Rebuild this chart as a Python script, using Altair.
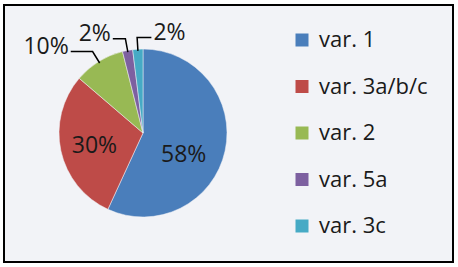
import math
import altair as alt
import pandas as pd

# ---- data ----
categories = ["var. 1", "var. 3a/b/c", "var. 2", "var. 5a", "var. 3c"]
values = [58, 30, 10, 2, 2]
labels = ["58%", "30%", "10%", "2%", "2%"]
colors = ["#4A7EBB", "#BE4B48", "#98B954", "#7D60A0", "#46AAC5"]
outside = [False, False, True, True, True]          # label placed outside with leader
side = ["", "", "left", "left", "right"]            # which way the leader arm goes

# ---- layout ----
W, H = 449, 257          # plot area (= bordered box)
CX, CY = 139, 128        # pie centre in plot pixels
R = 84                   # pie radius, px
FONT = "Open Sans"
arm = [0, 0, 0.26, 0.15, 0.17]   # leader arm length, in pie radii
inner_nudge = [16, -3]   # degrees, label placement tweak (Excel "best fit")
inner_r = [0.55, 0.6]

x_dom = [-CX / R, (W - CX) / R]
y_dom = [-(H - CY) / R, CY / R]

total = float(sum(values))
rows, inner, lines, outer = [], [], [], []
start = 0.0
for i, (c, v, lab) in enumerate(zip(categories, values, labels)):
    frac = v / total
    mid = (start + frac / 2) * 2 * math.pi
    start += frac
    sx, sy = math.sin(mid), math.cos(mid)
    rows.append({"cat": c, "val": v, "ord": i})
    if not outside[i]:
        a = mid + math.radians(inner_nudge[i])
        inner.append({"x": inner_r[i] * math.sin(a), "y": inner_r[i] * math.cos(a), "lab": lab})
    else:
        ex, ey = 1.14 * sx, 1.14 * sy
        d = -1 if side[i] == "left" else 1
        endx = ex + d * arm[i]
        pts = [(0.98 * sx, 0.98 * sy), (ex, ey), (endx, ey)]
        for k, (px, py) in enumerate(pts):
            lines.append({"id": i, "k": k, "x": px, "y": py})
        outer.append({"x": endx, "y": ey, "lab": lab, "side": side[i]})

df = pd.DataFrame(rows)
df_in = pd.DataFrame(inner)
df_ln = pd.DataFrame(lines)
df_out = pd.DataFrame(outer)

xs = alt.Scale(domain=x_dom, nice=False, zero=False)
ys = alt.Scale(domain=y_dom, nice=False, zero=False)

pie = alt.Chart(df).mark_arc(stroke="#F2F3F7", strokeWidth=0.5).encode(
    theta=alt.Theta("val:Q", stack=True),
    order=alt.Order("ord:Q"),
    color=alt.Color(
        "cat:N",
        scale=alt.Scale(domain=categories, range=colors),
        sort=categories,
        legend=alt.Legend(
            title=None, orient="none", legendX=287, legendY=24,
            symbolType="square", symbolSize=169, symbolStrokeWidth=0,
            labelFont=FONT, labelFontSize=22, labelColor="#1a1a1a",
            labelOffset=6, rowPadding=24.5, padding=0, labelLimit=200,
        ),
    ),
    x=alt.datum(0, type="quantitative", scale=xs, axis=None),
    y=alt.datum(0, type="quantitative", scale=ys, axis=None),
    radius=alt.value(R),
)

t_in = alt.Chart(df_in).mark_text(font=FONT, fontSize=23, color="#1a1a1a").encode(
    x=alt.X("x:Q", scale=xs, axis=None),
    y=alt.Y("y:Q", scale=ys, axis=None),
    text="lab:N",
)

ln = alt.Chart(df_ln).mark_line(color="black", strokeWidth=1.5).encode(
    x=alt.X("x:Q", scale=xs, axis=None),
    y=alt.Y("y:Q", scale=ys, axis=None),
    detail="id:N",
    order="k:Q",
)

t_left = alt.Chart(df_out).transform_filter("datum.side == 'left'").mark_text(
    font=FONT, fontSize=23, color="#1a1a1a", align="right", baseline="alphabetic", dx=-2, dy=2.5
).encode(
    x=alt.X("x:Q", scale=xs, axis=None),
    y=alt.Y("y:Q", scale=ys, axis=None),
    text="lab:N",
)
t_right = alt.Chart(df_out).transform_filter("datum.side == 'right'").mark_text(
    font=FONT, fontSize=23, color="#1a1a1a", align="left", baseline="alphabetic", dx=2, dy=2.5
).encode(
    x=alt.X("x:Q", scale=xs, axis=None),
    y=alt.Y("y:Q", scale=ys, axis=None),
    text="lab:N",
)

chart = (
    alt.layer(pie, t_in, ln, t_left, t_right)
    .properties(
        width=W, height=H,
        padding={"left": 4, "top": 5, "right": 5, "bottom": 5},
        autosize=alt.AutoSizeParams(type="none"),
        background="white",
    )
    .configure_view(fill="#F2F3F7", stroke="black", strokeWidth=2)
)

chart.save("out.html", embed_options={"renderer": "svg", "actions": False})
